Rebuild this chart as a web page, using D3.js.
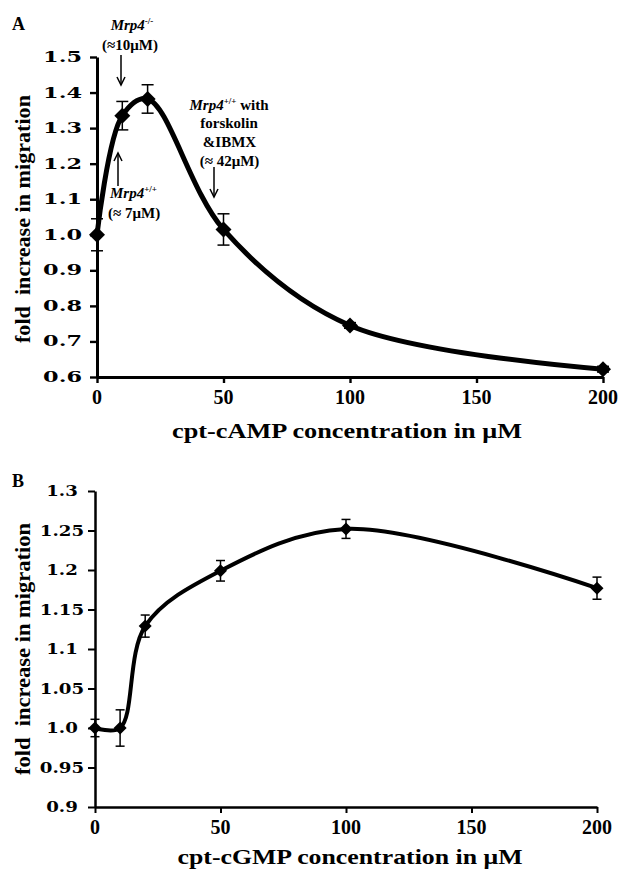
<!DOCTYPE html>
<html><head><meta charset="utf-8">
<script src="https://cdn.jsdelivr.net/npm/d3@7"></script>
<style>
html,body{margin:0;padding:0;background:#fff;}
svg text{font-family:"Liberation Serif","Times New Roman",serif;font-weight:bold;fill:#000;}
</style></head>
<body><svg id="c" width="620" height="871"></svg>
<script>
// ---- data ----
const concA = [0, 10, 20, 50, 100, 200];
const foldA = [1.0, 1.335, 1.382, 1.015, 0.745, 0.622];
const errA  = [0.045, 0.04, 0.04, 0.044, 0.008, 0.008];
const yTicksA = [0.6, 0.7, 0.8, 0.9, 1.0, 1.1, 1.2, 1.3, 1.4, 1.5];
const yLabelsA = ["0.6","0.7","0.8","0.9","1.0","1.1","1.2","1.3","1.4","1.5"];

const concB = [0, 10, 20, 50, 100, 200];
const foldB = [1.0, 1.0, 1.129, 1.199, 1.252, 1.177];
const errB  = [0.011, 0.023, 0.014, 0.013, 0.012, 0.014];
const yTicksB = [0.9, 0.95, 1.0, 1.05, 1.1, 1.15, 1.2, 1.25, 1.3];
const yLabelsB = ["0.9","0.95","1.0","1.05","1.1","1.15","1.2","1.25","1.3"];

const xTicks = [0, 50, 100, 150, 200];
const xLabels = ["0","50","100","150","200"];

const svg = d3.select("#c");

function panel(opt){
  const g = svg.append("g");
  const x = d3.scaleLinear([0,200],[opt.x0,opt.x1]);
  const y = d3.scaleLinear(opt.yDom,[opt.y0,opt.y1]);
  // axes
  const ay = g.append("g").attr("transform",`translate(${opt.x0},0)`)
    .call(d3.axisLeft(y).tickValues(opt.yTicks).tickSize(7).tickSizeOuter(0).tickFormat(""));
  const ax = g.append("g").attr("transform",`translate(0,${opt.y0})`)
    .call(d3.axisBottom(x).tickValues(xTicks).tickSize(6).tickSizeOuter(0).tickFormat(""));
  [ay,ax].forEach(a=>{
    a.select(".domain").attr("stroke","#000").attr("stroke-width",opt.axisW);
    a.selectAll(".tick line").attr("stroke","#000").attr("stroke-width",opt.axisW*0.8);
  });
  // y tick labels (wide bold serif)
  g.selectAll("text.yl").data(opt.yTicks).join("text").attr("class","yl")
    .attr("transform",d=>`translate(${opt.ylx},${y(d)+5}) scale(${opt.ysx},1)`)
    .attr("text-anchor",opt.yAnchor)
    .style("font-family","'DejaVu Serif',serif").style("font-size","14px")
    .text((d,i)=>opt.yLabels[i]);
  // x tick labels
  g.selectAll("text.xl").data(xTicks).join("text").attr("class","xl")
    .attr("x",d=>x(d)).attr("y",opt.y0+opt.xlOff).attr("text-anchor","middle")
    .style("font-size","20px").text((d,i)=>xLabels[i]);
  // x title
  g.append("text").attr("x",opt.xtX).attr("y",opt.xtY).attr("text-anchor","middle")
    .attr("textLength",opt.xtLen).attr("lengthAdjust","spacingAndGlyphs")
    .style("font-size","22px").text(opt.xTitle);
  // y title
  g.append("text").attr("transform",`translate(30,${opt.ytY}) rotate(-90)`)
    .attr("text-anchor","middle").attr("textLength",opt.ytLen).attr("lengthAdjust","spacingAndGlyphs")
    .style("font-size","21px").style("white-space","pre").text("fold  increase in migration");
  // panel letter
  g.append("text").attr("x",12).attr("y",opt.letterY).style("font-size","18px").text(opt.letter);

  const pts = opt.conc.map((c,i)=>({c, v:opt.fold[i], e:opt.err[i]}));
  // error bars
  const eb = g.selectAll("g.eb").data(pts).join("g").attr("class","eb");
  eb.append("line").attr("x1",d=>x(d.c)).attr("x2",d=>x(d.c))
    .attr("y1",d=>y(d.v-d.e)).attr("y2",d=>y(d.v+d.e)).attr("stroke","#000").attr("stroke-width",1.5);
  eb.selectAll("line.cap").data(d=>[d.v-d.e,d.v+d.e].map(v=>({c:d.c,v}))).join("line").attr("class","cap")
    .attr("x1",d=>x(d.c)-opt.capW).attr("x2",d=>x(d.c)+opt.capW)
    .attr("y1",d=>y(d.v)).attr("y2",d=>y(d.v)).attr("stroke","#000").attr("stroke-width",1.5);
  // curve
  const line = d3.line().x(d=>x(d.c)).y(d=>y(d.v)).curve(d3.curveCatmullRom.alpha(0.5));
  g.append("path").datum(pts).attr("d",line).attr("fill","none").attr("stroke","#000")
    .attr("stroke-width",opt.lineW).attr("stroke-linejoin","round");
  // markers (diamonds)
  const m = opt.mk;
  g.selectAll("path.mk").data(pts).join("path").attr("class","mk")
    .attr("d",d=>{const cx=x(d.c), cy=y(d.v);
      return `M${cx},${cy-m}L${cx+m},${cy}L${cx},${cy+m}L${cx-m},${cy}Z`;})
    .attr("fill","#000");
  return {g,x,y};
}

const A = panel({x0:97,x1:603,y0:377,y1:57,yDom:[0.6,1.5],yTicks:yTicksA,yLabels:yLabelsA,
  ylx:82,ysx:1.6,yAnchor:"end",axisW:3,xlOff:27,xtX:347,xtY:438,xtLen:350,
  xTitle:"cpt-cAMP concentration in μM",ytY:219,ytLen:248,letter:"A",letterY:30,
  conc:concA,fold:foldA,err:errA,capW:6,lineW:5,mk:8});

const B = panel({x0:95,x1:597,y0:807,y1:491,yDom:[0.9,1.3],yTicks:yTicksB,yLabels:yLabelsB,
  ylx:62,ysx:1.3,yAnchor:"middle",axisW:2.5,xlOff:27,xtX:350,xtY:864,xtLen:345,
  xTitle:"cpt-cGMP concentration in μM",ytY:649,ytLen:252,letter:"B",letterY:487,
  conc:concB,fold:foldB,err:errB,capW:4.5,lineW:4,mk:6.5});

// ---- annotations (panel A) ----
const ann = A.g.append("g").style("font-size","15px");
function mrp(txt, x, y, sup, rest, anchor){
  const t = ann.append("text").attr("x",x).attr("y",y).attr("text-anchor",anchor||"start");
  t.append("tspan").style("font-style","italic").text(txt);
  t.append("tspan").attr("dy",-6).style("font-size","9px").text(sup);
  if(rest) t.append("tspan").attr("dy",6).text(rest);
  return t;
}
mrp("Mrp4",132,30,"-/-",null,"middle");
ann.append("text").attr("x",130).attr("y",50).attr("text-anchor","middle").text("(≈10μM)");
mrp("Mrp4",229,110,"+/+"," with","middle");
ann.append("text").attr("x",229).attr("y",128).attr("text-anchor","middle").text("forskolin");
ann.append("text").attr("x",229.5).attr("y",147).attr("text-anchor","middle").text("&IBMX");
ann.append("text").attr("x",229.5).attr("y",166).attr("text-anchor","middle").text("(≈ 42μM)");
mrp("Mrp4",110,198,"+/+",null,"start");
ann.append("text").attr("x",108).attr("y",218).text("(≈ 7μM)");

function arrow(x, yTail, yTip){
  const dir = yTip > yTail ? 1 : -1;
  const a = A.g.append("g").attr("stroke","#000").attr("stroke-width",1.5).attr("fill","none");
  a.append("line").attr("x1",x).attr("x2",x).attr("y1",yTail).attr("y2",yTip);
  a.append("path").attr("d",`M${x-4},${yTip-dir*8}L${x},${yTip}L${x+4},${yTip-dir*8}`);
}
arrow(121,55,85);
arrow(214,167,197);
arrow(118,186,153);
</script></body></html>
